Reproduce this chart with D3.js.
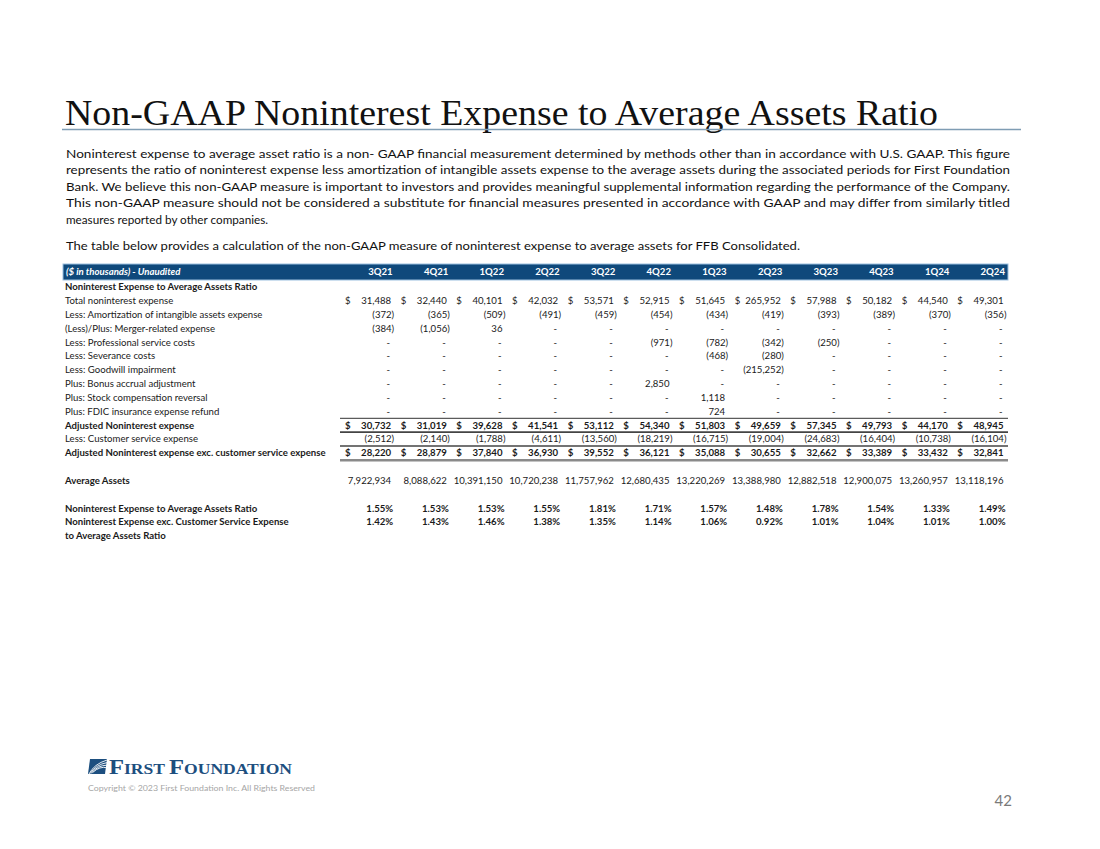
<!DOCTYPE html>
<html>
<head>
<meta charset="utf-8">
<script src="https://cdn.jsdelivr.net/npm/d3@7"></script>
<style>
  html, body { margin: 0; padding: 0; background: #fff; }
  svg { display: block; }
</style>
</head>
<body>
<script>
// ---------------- DATA ----------------
const quarters = ["3Q21","4Q21","1Q22","2Q22","3Q22","4Q22","1Q23","2Q23","3Q23","4Q23","1Q24","2Q24"];
const totalNoninterestExpense = [31488,32440,40101,42032,53571,52915,51645,265952,57988,50182,44540,49301];
const amortizationIntangibles = [-372,-365,-509,-491,-459,-454,-434,-419,-393,-389,-370,-356];
const mergerRelatedExpense = [-384,-1056,36,null,null,null,null,null,null,null,null,null];
const professionalServiceCosts = [null,null,null,null,null,-971,-782,-342,-250,null,null,null];
const severanceCosts = [null,null,null,null,null,null,-468,-280,null,null,null,null];
const goodwillImpairment = [null,null,null,null,null,null,null,-215252,null,null,null,null];
const bonusAccrualAdjustment = [null,null,null,null,null,2850,null,null,null,null,null,null];
const stockCompensationReversal = [null,null,null,null,null,null,1118,null,null,null,null,null];
const fdicInsuranceRefund = [null,null,null,null,null,null,724,null,null,null,null,null];
const adjustedNoninterestExpense = [30732,31019,39628,41541,53112,54340,51803,49659,57345,49793,44170,48945];
const customerServiceExpense = [-2512,-2140,-1788,-4611,-13560,-18219,-16715,-19004,-24683,-16404,-10738,-16104];
const adjustedExcCustomerService = [28220,28879,37840,36930,39552,36121,35088,30655,32662,33389,33432,32841];
const averageAssets = [7922934,8088622,10391150,10720238,11757962,12680435,13220269,13388980,12882518,12900075,13260957,13118196];
const nieToAssetsRatio = [1.55,1.53,1.53,1.55,1.81,1.71,1.57,1.48,1.78,1.54,1.33,1.49];
const nieExcCustToAssetsRatio = [1.42,1.43,1.46,1.38,1.35,1.14,1.06,0.92,1.01,1.04,1.01,1.00];

const titleText = "Non-GAAP Noninterest Expense to Average Assets Ratio";
const paragraphLines = [
  "Noninterest expense to average asset ratio is a non- GAAP financial measurement determined by methods other than in accordance with U.S. GAAP.  This figure",
  "represents the ratio of noninterest expense less amortization of intangible assets expense to the average assets during the associated periods for First Foundation",
  "Bank. We believe this non-GAAP measure is important to investors and  provides meaningful supplemental information regarding the performance of the Company.",
  "This non-GAAP measure should not be considered a substitute for financial measures presented in accordance with GAAP and may differ from similarly titled",
  "measures reported by other companies."
];
const tableIntro = "The table below provides a calculation of the non-GAAP measure of noninterest expense to average assets for FFB Consolidated.";

const rows = [
  {label: "Noninterest Expense to Average Assets Ratio", values: null, bold: true},
  {label: "Total noninterest expense", values: totalNoninterestExpense, dollar: true},
  {label: "Less: Amortization of intangible assets expense", values: amortizationIntangibles},
  {label: "(Less)/Plus: Merger-related expense", values: mergerRelatedExpense},
  {label: "Less: Professional service costs", values: professionalServiceCosts},
  {label: "Less: Severance costs", values: severanceCosts},
  {label: "Less: Goodwill impairment", values: goodwillImpairment},
  {label: "Plus: Bonus accrual adjustment", values: bonusAccrualAdjustment},
  {label: "Plus: Stock compensation reversal", values: stockCompensationReversal},
  {label: "Plus: FDIC insurance expense refund", values: fdicInsuranceRefund},
  {label: "Adjusted Noninterest expense", values: adjustedNoninterestExpense, dollar: true, bold: true},
  {label: "Less: Customer service expense", values: customerServiceExpense},
  {label: "Adjusted Noninterest expense exc. customer service expense", values: adjustedExcCustomerService, dollar: true, bold: true},
  {label: "", values: null},
  {label: "Average Assets", values: averageAssets, bold: true, valuesRegular: true},
  {label: "", values: null},
  {label: "Noninterest Expense to Average Assets Ratio", values: nieToAssetsRatio, bold: true, pct: true},
  {label: "Noninterest Expense exc. Customer Service Expense", values: nieExcCustToAssetsRatio, bold: true, pct: true},
  {label: "to Average Assets Ratio", values: null, bold: true}
];

// ---------------- DRAW ----------------
const W = 1100, H = 849;
const svg = d3.select("body").append("svg").attr("width", W).attr("height", H);
svg.append("rect").attr("width", W).attr("height", H).attr("fill", "#fff");

const sans = "Lato, 'Open Sans', sans-serif";
const textColor = "#1a1a1a";
const fs = 9.6;

// Title
svg.append("text").attr("x", 65).attr("y", 125)
  .attr("font-family", "'Liberation Serif', 'DejaVu Serif', serif")
  .attr("font-size", 36).attr("fill", "#111")
  .attr("textLength", 873).attr("lengthAdjust", "spacingAndGlyphs")
  .text(titleText);
svg.append("line").attr("x1", 62).attr("x2", 1021).attr("y1", 129.5).attr("y2", 129.5)
  .attr("stroke", "#7f9db4").attr("stroke-width", 1.6);

// Paragraph
const paraEnds = [1010, 1010, 1010, 1010, 268];
const paraBase = [157.5, 174, 190.5, 207, 223.5];
svg.append("g").selectAll("text").data(paragraphLines).join("text")
  .attr("x", 66).attr("y", (d, i) => paraBase[i])
  .attr("font-family", sans).attr("font-size", 12.2).attr("fill", "#111")
  .attr("textLength", (d, i) => paraEnds[i] - 66).attr("lengthAdjust", "spacingAndGlyphs")
  .text(d => d);
svg.append("text").attr("x", 66).attr("y", 250)
  .attr("font-family", sans).attr("font-size", 12.2).attr("fill", "#111")
  .attr("textLength", 800 - 66).attr("lengthAdjust", "spacingAndGlyphs")
  .text(tableIntro);

// Table scales
const x = d3.scaleBand().domain(quarters).range([340, 1008]).paddingInner(0).paddingOuter(0);
const rowH = 13.83;
const y = d3.scaleLinear().domain([0, 1]).range([280, 280 + rowH]); // row position -> y
const rowY = i => y(i + 0.5);     // centre of rows[i]
const rowTop = i => y(i);
const valRight = q => x(q) + x.bandwidth() - 4.5;

// Header bar
svg.append("rect").attr("x", 63).attr("y", 264).attr("width", 945).attr("height", 16)
  .attr("fill", "#0f497b").attr("stroke", "#9cc0df").attr("stroke-width", 1);
svg.append("text").attr("x", 66).attr("y", 272).attr("dy", "0.35em")
  .attr("font-family", sans).attr("font-size", 9.6).attr("font-weight", "bold").attr("font-style", "italic")
  .attr("fill", "#fff").text("($ in thousands) - Unaudited");
svg.append("g").selectAll("text").data(quarters).join("text")
  .attr("x", q => valRight(q) + 1.5).attr("y", 272).attr("dy", "0.35em")
  .attr("text-anchor", "end")
  .attr("font-family", sans).attr("font-size", 9.6).attr("font-weight", "bold")
  .attr("fill", "#fff").text(q => q);

// Row labels
const tbl = svg.append("g");
tbl.selectAll("text.lbl").data(rows).join("text").attr("class", "lbl")
  .attr("x", 65).attr("y", (d, i) => rowY(i)).attr("dy", "0.35em")
  .attr("font-family", sans).attr("font-size", fs)
  .attr("font-weight", d => d.bold ? "bold" : "normal")
  .attr("fill", textColor).text(d => d.label);

const fmtInt = d3.format(",.0f");
rows.forEach((r, i) => {
  if (!r.values) return;
  const g = tbl.append("g");
  const bold = r.bold && !r.valuesRegular;
  const cells = quarters.map((q, j) => ({q, v: r.values[j]}));
  if (r.dollar) {
    g.selectAll("text.dol").data(cells).join("text").attr("class", "dol")
      .attr("x", d => x(d.q) + 5).attr("y", rowY(i)).attr("dy", "0.35em")
      .attr("font-family", sans).attr("font-size", fs)
      .attr("font-weight", bold ? "bold" : "normal")
      .attr("fill", textColor).text("$");
  }
  g.selectAll("text.val").data(cells).join("text").attr("class", "val")
    .attr("y", rowY(i)).attr("dy", "0.35em")
    .attr("font-family", sans).attr("font-size", fs)
    .attr("font-weight", bold ? "bold" : "normal")
    .attr("fill", textColor)
    .attr("text-anchor", "end")
    .attr("x", d => {
      if (r.pct) return valRight(d.q) + 2;
      if (d.v === null) return valRight(d.q) - 1;
      return d.v < 0 ? valRight(d.q) + 3 : valRight(d.q);
    })
    .text(d => {
      if (d.v === null) return "-";
      if (r.pct) return d3.format(".2f")(d.v) + "%";
      return d.v < 0 ? "(" + fmtInt(-d.v) + ")" : fmtInt(d.v);
    });
});

// Borders
const bx1 = 340, bx2 = 1008;
const idxAdj = 10;
svg.append("line").attr("x1", bx1).attr("x2", bx2)
  .attr("y1", rowTop(idxAdj)).attr("y2", rowTop(idxAdj))
  .attr("stroke", "#333").attr("stroke-width", 1);
svg.append("line").attr("x1", bx1).attr("x2", bx2)
  .attr("y1", rowTop(idxAdj + 1)).attr("y2", rowTop(idxAdj + 1))
  .attr("stroke", "#444").attr("stroke-width", 1.6);
svg.append("line").attr("x1", bx1).attr("x2", bx2)
  .attr("y1", rowTop(idxAdj + 2)).attr("y2", rowTop(idxAdj + 2))
  .attr("stroke", "#444").attr("stroke-width", 1.6);
svg.append("line").attr("x1", bx1).attr("x2", bx2)
  .attr("y1", rowTop(idxAdj + 3) + 0.5).attr("y2", rowTop(idxAdj + 3) + 0.5)
  .attr("stroke", "#8a8a8a").attr("stroke-width", 2.6);

// Logo
const logo = svg.append("g");
const blue = "#1d4f7f";
logo.append("path")
  .attr("d", "M90,759 L107,759 L105,774 L88,774 Z").attr("fill", blue);
[0, 1, 2, 3].forEach(k => {
  logo.append("path")
    .attr("d", `M${89 + k * 1.2},${774 - k * 0.5} Q${94 + k * 2},${764 + k * 0.6} ${107},${760 + k * 2.6}`)
    .attr("fill", "none").attr("stroke", "#fff").attr("stroke-width", 0.9);
});
const logoText = logo.append("text").attr("x", 109).attr("y", 774)
  .attr("font-family", "'Liberation Serif', serif").attr("font-weight", "bold")
  .attr("fill", blue).attr("textLength", 183).attr("lengthAdjust", "spacingAndGlyphs");
logoText.append("tspan").attr("font-size", 21).text("F");
logoText.append("tspan").attr("font-size", 15).text("IRST ");
logoText.append("tspan").attr("font-size", 21).text("F");
logoText.append("tspan").attr("font-size", 15).text("OUNDATION");

svg.append("text").attr("x", 88).attr("y", 791)
  .attr("font-family", sans).attr("font-size", 8.2).attr("fill", "#a6a6a6")
  .attr("textLength", 227).attr("lengthAdjust", "spacingAndGlyphs")
  .text("Copyright © 2023 First Foundation Inc. All Rights Reserved");

svg.append("text").attr("x", 1012).attr("y", 806).attr("text-anchor", "end")
  .attr("font-family", sans).attr("font-size", 15).attr("fill", "#7a7a7a").text("42");
</script>
</body>
</html>
